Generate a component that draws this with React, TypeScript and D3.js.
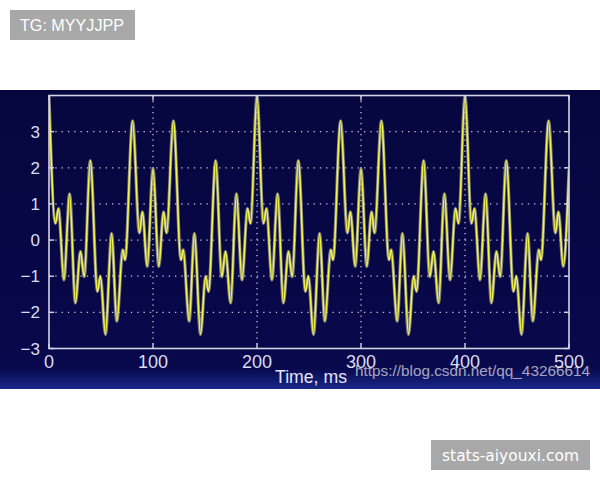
import React from "react";
import * as d3 from "d3";

// Signal: local extrema (time in ms, amplitude)
const timeMs = [
  0, 6.2, 9.1, 14.4, 19.8, 25.4, 30.2, 33.9, 39.7, 46.6, 49.4, 54.3, 60.2, 65.2, 71.0, 73.1, 80.4, 86.9, 89.9, 94.4,
  100, 105.6, 110.1, 113.1, 119.6, 126.9, 129.0, 134.8, 139.8, 145.7, 150.6, 153.4, 160.3, 166.1, 169.8, 174.6, 180.2, 185.6, 190.9, 193.8,
  200, 206.2, 209.1, 214.4, 219.8, 225.4, 230.2, 233.9, 239.7, 246.6, 249.4, 254.3, 260.2, 265.2, 271.0, 273.1, 280.4, 286.9, 289.9, 294.4,
  300, 305.6, 310.1, 313.1, 319.6, 326.9, 329.0, 334.8, 339.8, 345.7, 350.6, 353.4, 360.3, 366.1, 369.8, 374.6, 380.2, 385.6, 390.9, 393.8,
  400, 406.2, 409.1, 414.4, 419.8, 425.4, 430.2, 433.9, 439.7, 446.6, 449.4, 454.3, 460.2, 465.2, 471.0, 473.1, 480.4, 486.9, 489.9, 494.4,
  500,
];
const amplitude = [
  3.98, 0.46, 0.87, -1.10, 1.28, -1.74, -0.32, -1.01, 2.20, -1.42, -1.00, -2.61, 0.18, -2.24, -0.27, -0.55, 3.30, 0.20, 0.78, -0.73,
  1.97, -0.73, 0.78, 0.20, 3.30, -0.55, -0.27, -2.24, 0.18, -2.61, -1.00, -1.42, 2.20, -1.01, -0.32, -1.74, 1.28, -1.10, 0.87, 0.46,
  3.98, 0.46, 0.87, -1.10, 1.28, -1.74, -0.32, -1.01, 2.20, -1.42, -1.00, -2.61, 0.18, -2.24, -0.27, -0.55, 3.30, 0.20, 0.78, -0.73,
  1.97, -0.73, 0.78, 0.20, 3.30, -0.55, -0.27, -2.24, 0.18, -2.61, -1.00, -1.42, 2.20, -1.01, -0.32, -1.74, 1.28, -1.10, 0.87, 0.46,
  3.98, 0.46, 0.87, -1.10, 1.28, -1.74, -0.32, -1.01, 2.20, -1.42, -1.00, -2.61, 0.18, -2.24, -0.27, -0.55, 3.30, 0.20, 0.78, -0.73,
  1.95,
];

const xTicks = [0, 100, 200, 300, 400, 500];
const yTicks = [-3, -2, -1, 0, 1, 2, 3];
const xLabel = "Time, ms";
const watermark = "https://blog.csdn.net/qq_43266614";
const topTag = "TG: MYYJJPP";
const bottomTag = "stats-aiyouxi.com";

const L = 49, R = 569, T = 95.5, B = 348.5;

export default function App() {
  const x = d3.scaleLinear().domain([0, 500]).range([L, R]);
  const y = d3.scaleLinear().domain([-3, 4]).range([B, T]);
  const pts: [number, number][] = timeMs.map((t, i) => [t, amplitude[i]]);
  const line = d3
    .line<[number, number]>()
    .x((d) => x(d[0]))
    .y((d) => y(d[1]))
    .curve(d3.curveMonotoneX);
  const path = line(pts) || "";
  const axisCol = "#d4d4e4";
  const labCol = "#dcdcee";
  const font = "'Liberation Sans', Arial, sans-serif";

  return (
    <div style={{ position: "absolute", left: 0, top: 0 }}>
      <svg width={600} height={480} style={{ display: "block" }}>
        <defs>
          <linearGradient id="band" x1="0" y1="0" x2="0" y2="1">
            <stop offset="0" stopColor="#06063f" />
            <stop offset="0.93" stopColor="#08084c" />
            <stop offset="1" stopColor="#18288a" />
          </linearGradient>
          <clipPath id="plotclip">
            <rect x={L} y={T} width={R - L} height={B - T} />
          </clipPath>
        </defs>
        <rect x={0} y={0} width={600} height={480} fill="#ffffff" />
        <rect x={0} y={90} width={600} height={299} fill="url(#band)" />

        {/* grid */}
        {xTicks.slice(1, -1).map((t) => (
          <line key={"gx" + t} x1={x(t)} x2={x(t)} y1={T} y2={B}
            stroke="#c8c8e0" strokeWidth={1.3} strokeDasharray="1.3 4.2" />
        ))}
        {yTicks.slice(1).map((v) => (
          <line key={"gy" + v} x1={L} x2={R} y1={y(v)} y2={y(v)}
            stroke="#c8c8e0" strokeWidth={1.3} strokeDasharray="1.3 5" />
        ))}

        {/* signal */}
        <g clipPath="url(#plotclip)">
          <path d={path} fill="none" stroke="#a8a890" strokeWidth={3.2} strokeLinejoin="round" opacity={0.75} />
          <path d={path} fill="none" stroke="#f4f448" strokeWidth={1.6} strokeLinejoin="round" />
        </g>

        {/* frame + ticks */}
        <rect x={L} y={T} width={R - L} height={B - T} fill="none" stroke={axisCol} strokeWidth={1.6} />
        {xTicks.map((t) => (
          <g key={"tx" + t}>
            <line x1={x(t)} x2={x(t)} y1={B} y2={B - 5} stroke={axisCol} strokeWidth={1.4} />
            <line x1={x(t)} x2={x(t)} y1={T} y2={T + 5} stroke={axisCol} strokeWidth={1.4} />
            <text x={x(t)} y={367.5} textAnchor="middle" fontFamily={font} fontSize={18} fill={labCol}>
              {t}
            </text>
          </g>
        ))}
        {yTicks.map((v) => (
          <g key={"ty" + v}>
            <line x1={L} x2={L + 5} y1={y(v)} y2={y(v)} stroke={axisCol} strokeWidth={1.4} />
            <line x1={R} x2={R - 5} y1={y(v)} y2={y(v)} stroke={axisCol} strokeWidth={1.4} />
            <text x={40} y={y(v)} dy="0.36em" textAnchor="end" fontFamily={font} fontSize={17} fill={labCol}>
              {v < 0 ? "\u2212" + Math.abs(v) : String(v)}
            </text>
          </g>
        ))}
        <text x={275} y={383} fontFamily={font} fontSize={18} fill="#e4e4f4" textLength={72} lengthAdjust="spacingAndGlyphs">
          {xLabel}
        </text>
        <text x={355} y={376} fontFamily={font} fontSize={15.5} fill="#ffffff" opacity={0.62} textLength={235} lengthAdjust="spacingAndGlyphs">
          {watermark}
        </text>

        {/* tags */}
        <rect x={10} y={10} width={125} height={30} fill="#a8a8a8" />
        <text x={20} y={30.5} fontFamily={font} fontSize={16} fill="#ffffff" textLength={104} lengthAdjust="spacingAndGlyphs">
          {topTag}
        </text>
        <rect x={431} y={440} width={159} height={30} fill="#a8a8a8" />
        <text x={442} y={461} fontFamily="'DejaVu Sans', sans-serif" fontSize={15.5} fill="#ffffff" textLength={137} lengthAdjust="spacingAndGlyphs">
          {bottomTag}
        </text>
      </svg>
    </div>
  );
}
